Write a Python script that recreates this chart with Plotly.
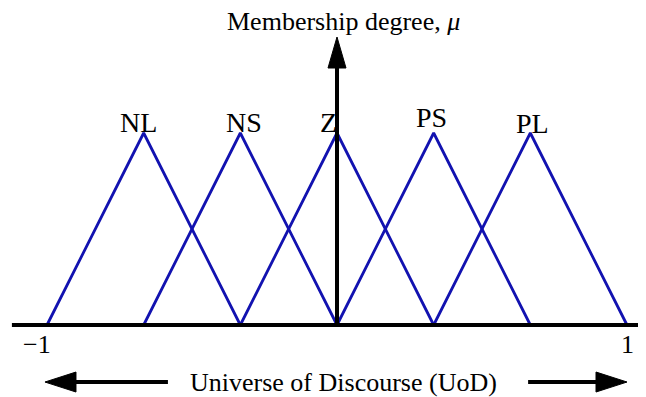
import plotly.graph_objects as go

# fuzzy sets on the universe of discourse [-1, 1]
set_names = ["NL", "NS", "Z", "PS", "PL"]
left_feet = [-1.0, -2 / 3, -1 / 3, 0.0, 1 / 3]
peaks = [-2 / 3, -1 / 3, 0.0, 1 / 3, 2 / 3]
right_feet = [-1 / 3, 0.0, 1 / 3, 2 / 3, 1.0]
tick_vals = [-1, 1]
tick_text = ["\u22121", "1"]

blue = "#1212b0"
font = "Liberation Serif, Times New Roman, serif"

fig = go.Figure()

for name, a, b, c in zip(set_names, left_feet, peaks, right_feet):
    fig.add_trace(
        go.Scatter(
            x=[a, b, c],
            y=[0, 1, 0],
            mode="lines",
            line=dict(color=blue, width=2.8),
            name=name,
            showlegend=False,
            hoverinfo="skip",
        )
    )


def arrow_head(x, y, path):
    # filled head drawn in pixels around the tip
    return dict(type="path", xref="x", yref="y", xsizemode="pixel",
                ysizemode="pixel", xanchor=x, yanchor=y, path=path,
                fillcolor="black", line=dict(color="black", width=1))


shapes = [
    # horizontal axis
    dict(type="line", xref="x", yref="y", x0=-1.121, x1=1.08, y0=0, y1=0,
         line=dict(color="black", width=4)),
    # vertical axis
    dict(type="line", xref="x", yref="y", x0=0, x1=0, y0=0, y1=1.40,
         line=dict(color="black", width=4)),
    arrow_head(0, 1.5, "M0,0 L-9,-31 L9,-31 Z"),
    # UoD arrows
    dict(type="line", xref="x", yref="y", x0=-0.94, x1=-0.583,
         y0=-0.297, y1=-0.297, line=dict(color="black", width=4)),
    arrow_head(-1.007, -0.297, "M0,0 L31,10 L31,-10 Z"),
    dict(type="line", xref="x", yref="y", x0=0.659, x1=0.94,
         y0=-0.297, y1=-0.297, line=dict(color="black", width=4)),
    arrow_head(1.0, -0.297, "M0,0 L-31,10 L-31,-10 Z"),
]

annotations = []
annotations.append(dict(
    x=0.024, y=1.58, xref="x", yref="y", text="Membership degree, <i>\u03bc</i>",
    showarrow=False, font=dict(family=font, size=26, color="black"),
    yanchor="middle",
))

# labels of the fuzzy sets
label_dx = [-0.018, 0.012, -0.031, -0.009, 0.009]
label_dy = [1.057, 1.057, 1.057, 1.083, 1.047]
for name, b, dx, dy in zip(set_names, peaks, label_dx, label_dy):
    annotations.append(dict(
        x=b + dx, y=dy, xref="x", yref="y", text=name, showarrow=False,
        font=dict(family=font, size=28, color="black"), yanchor="middle",
    ))

# tick labels
for v, t in zip(tick_vals, tick_text):
    annotations.append(dict(
        x=v - (0.034 if v < 0 else 0), y=-0.104, xref="x", yref="y", text=t,
        showarrow=False, font=dict(family=font, size=26, color="black"),
        yanchor="middle",
    ))

# universe of discourse label
annotations.append(dict(
    x=0.024, y=-0.297, xref="x", yref="y", text="Universe of Discourse (UoD)",
    showarrow=False, font=dict(family=font, size=26, color="black"),
    yanchor="middle",
))

# the page body adds an 8 px offset, so the figure is 8 px smaller
fig.update_layout(
    width=638,
    height=389,
    margin=dict(l=0, r=0, t=0, b=0),
    paper_bgcolor="white",
    plot_bgcolor="white",
    shapes=shapes,
    annotations=annotations,
    xaxis=dict(range=[-1 - 39 / 290, -1 + 599 / 290], visible=False,
               fixedrange=True),
    yaxis=dict(range=[-72 / 192, 317 / 192], visible=False, fixedrange=True),
)

fig.write_html("out.html")
